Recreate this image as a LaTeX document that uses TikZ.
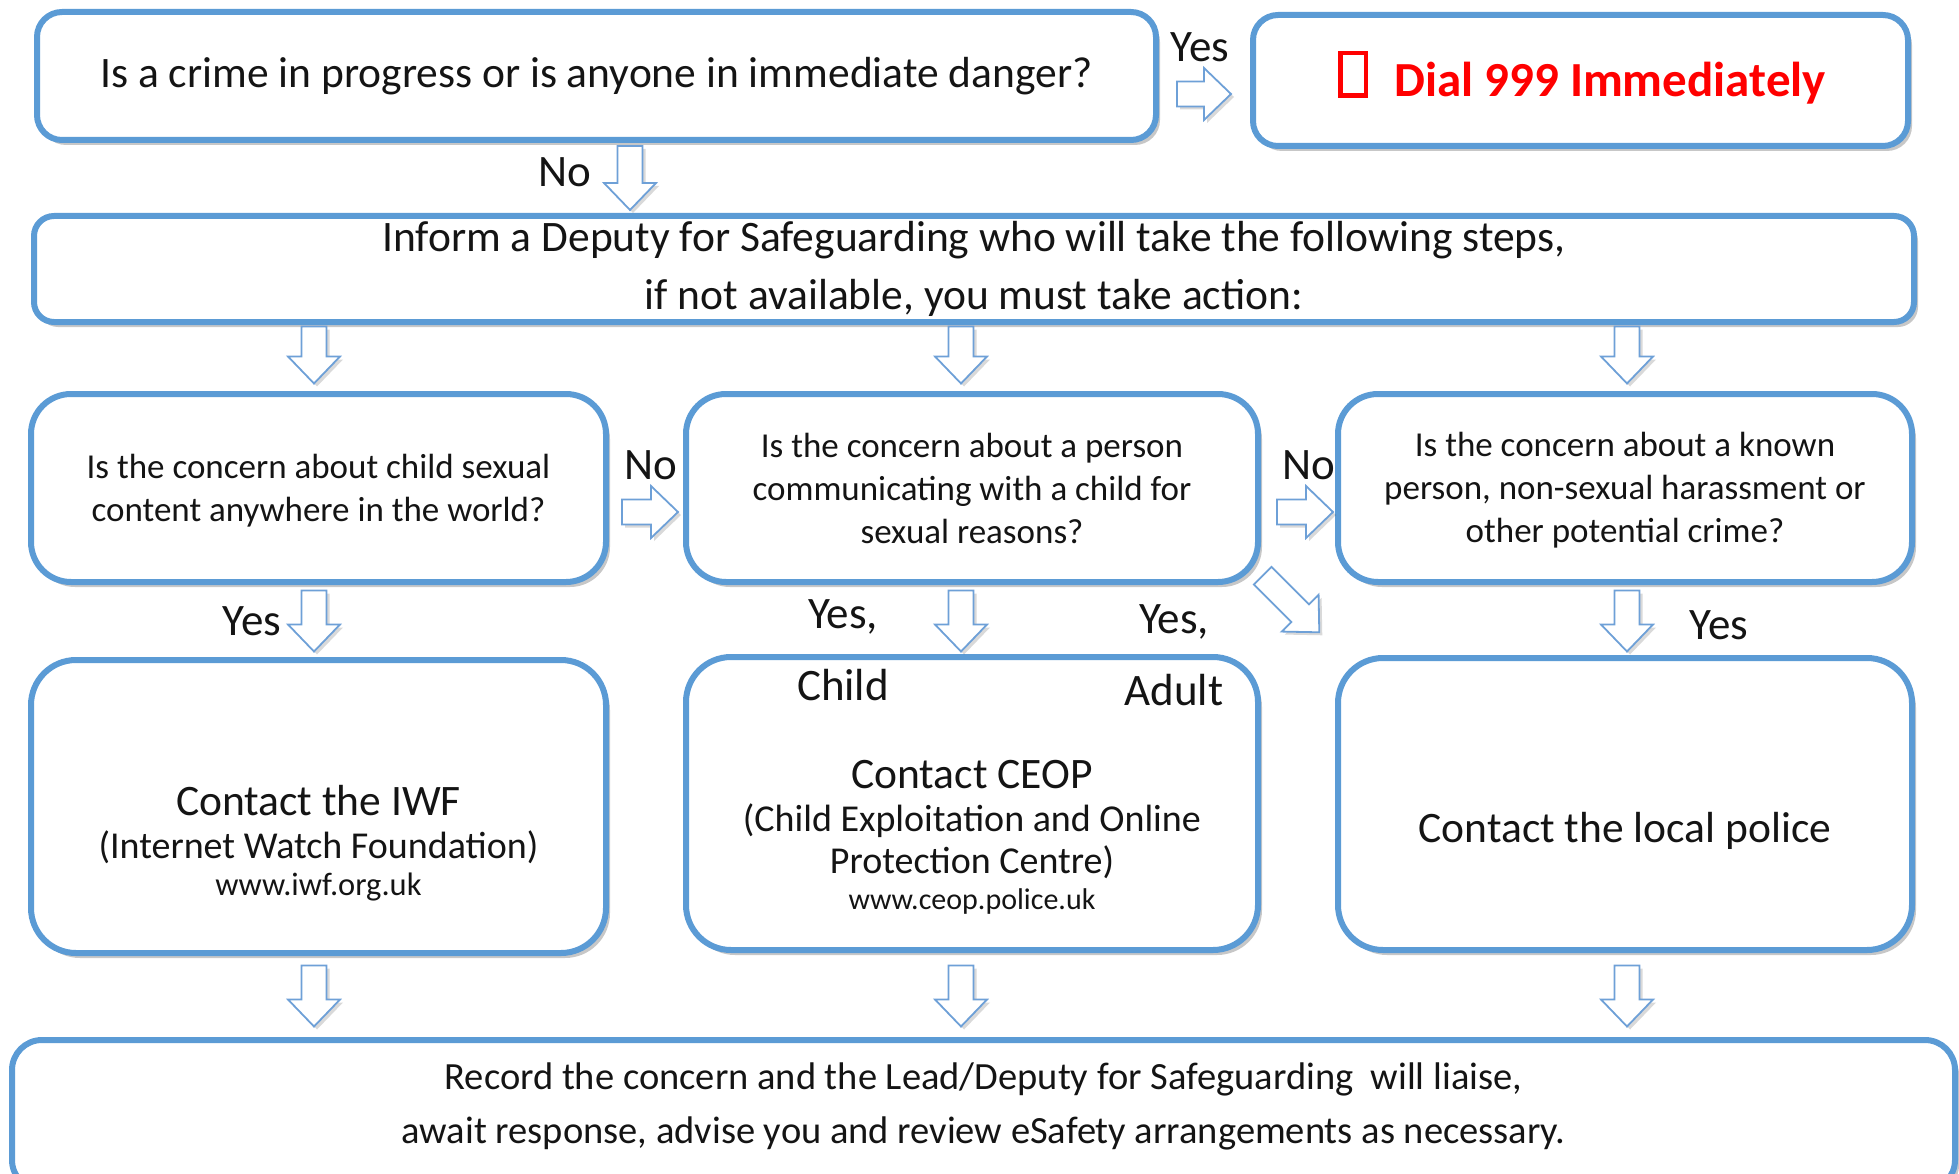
\documentclass[tikz,border=0pt]{standalone}
\usepackage{fontspec}
\setmainfont{Carlito}
\usetikzlibrary{shadows}
\definecolor{boxblue}{RGB}{91,155,213}
\definecolor{arrblue}{RGB}{110,160,215}
\definecolor{txt}{RGB}{20,20,20}
\newcommand{\fsz}[2]{\fontsize{#1}{#2}\selectfont}
\newcommand{\tofu}{\raisebox{3pt}{\setlength{\fboxrule}{4.5pt}\setlength{\fboxsep}{0pt}\fcolorbox{red}{white}{\rule{0pt}{38pt}\rule{21pt}{0pt}}}}
\begin{document}
\begin{tikzpicture}[x=1pt,y=-1pt,
  fbox/.style={draw=boxblue, line width=6pt, fill=white, rounded corners=#1,
    drop shadow={shadow xshift=4pt, shadow yshift=-5pt, opacity=0.22, fill=black},
    inner sep=0pt},
  arrstyle/.style={draw=arrblue, line width=1.8pt, fill=white, line join=miter,
    drop shadow={shadow xshift=3pt, shadow yshift=-3pt, opacity=0.15, fill=black}},
  barrow/.pic={
    \draw[arrstyle] ({-#1/2},12.5) -- ({#1/2-27},12.5) -- ({#1/2-27},26) -- ({#1/2},0)
      -- ({#1/2-27},-26) -- ({#1/2-27},-12.5) -- ({-#1/2},-12.5) -- cycle;
    \coordinate (-tip) at ({#1/2},0);
  },
  lbl/.style={font=\fsz{45}{54}, text=txt, inner sep=0pt},
  qtxt/.style={font=\fsz{35}{43}, text=txt, align=center, inner sep=0pt},
  ctxt/.style={font=\fsz{38}{42}, text=txt, align=center, inner sep=0pt},
  chead/.style={font=\fsz{43.5}{50}, text=txt, inner sep=0pt},
  url/.style={font=\fsz{#1}{36}, text=txt, inner sep=0pt}
]
\useasboundingbox (0,0) rectangle (1959,1174);

% top row
\node[fbox=25pt, minimum width=1119pt, minimum height=128pt] (q1) at (596.5,76) {};
\node[font=\fsz{43.5}{52}, text=txt, inner sep=0pt] (q1t) at (q1.center) {Is a crime in progress or is anyone in immediate danger?};
\node[fbox=25pt, minimum width=655pt, minimum height=131pt] (dial) at (1580.5,80.5) {};
\node[font=\bfseries\fsz{49}{58}, text=red, inner sep=0pt] (dialt) at (1582,77.5) {\tofu\hspace{26pt}Dial 999 Immediately};

% inform box
\node[fbox=20pt, minimum width=1880pt, minimum height=106pt] (inform) at (974,269) {};
\node[font=\fsz{43.5}{58}, text=txt, align=center, inner sep=0pt] (informt) at (974,269) {Inform a Deputy for Safeguarding who will take the following steps,\\if not available, you must take action:};

% row 3 questions
\node[fbox=40pt, minimum width=575pt, minimum height=188pt] (qa) at (318.5,488) {};
\node[qtxt] (qat) at (318.5,491) {Is the concern about child sexual\\content anywhere in the world?};
\node[fbox=40pt, minimum width=572pt, minimum height=188pt] (qb) at (972,488) {};
\node[qtxt] (qbt) at (972,488) {Is the concern about a person\\communicating with a child for\\sexual reasons?};
\node[fbox=40pt, minimum width=574pt, minimum height=188pt] (qc) at (1625,488) {};
\node[qtxt] (qct) at (1625,490) {Is the concern about a known\\person, non-sexual harassment or\\other potential crime?};

% row 4 actions
\node[fbox=45pt, minimum width=575pt, minimum height=293pt] (ca) at (318.5,806.5) {};
\node[chead] (ca1) at (318.5,801) {Contact the IWF};
\node[ctxt] (ca2) at (318.5,847) {(Internet Watch Foundation)};
\node[url=32.5] (ca3) at (318.5,887) {www.iwf.org.uk};
\node[fbox=45pt, minimum width=572pt, minimum height=293pt] (cb) at (972,803.5) {};
\node[chead] (cb1) at (972,775) {Contact CEOP};
\node[ctxt] (cb2) at (972,841) {(Child Exploitation and Online\\Protection Centre)};
\node[url=30] (cb3) at (972,901) {www.ceop.police.uk};
\node[fbox=45pt, minimum width=574pt, minimum height=292pt] (cc) at (1625,804) {};
\node[chead] (cc1) at (1625,831) {Contact the local police};

% bottom
\node[fbox=30pt, minimum width=1943pt, minimum height=150pt] (rec) at (983.5,1115) {};
\node[font=\fsz{38.5}{54}, text=txt, align=center, inner sep=0pt] (rect) at (983.5,1106) {Record the concern and the Lead/Deputy for Safeguarding\ \ will liaise,\\await response, advise you and review eSafety arrangements as necessary.};

% block arrows
\pic (ayes) at (1204,94) {barrow=54};
\pic[rotate=-90] (ano) at (630,178) {barrow=64};
\pic[rotate=-90] (d1) at (314,355) {barrow=57};
\pic[rotate=-90] (d2) at (961,355) {barrow=57};
\pic[rotate=-90] (d3) at (1627,355) {barrow=57};
\pic (r1) at (650,512) {barrow=56};
\pic (r2) at (1305,512) {barrow=56};
\pic[rotate=-90] (y1) at (314,621) {barrow=61};
\pic[rotate=-90] (y2) at (961,621) {barrow=61};
\pic[rotate=-90] (y3) at (1627,621) {barrow=61};
\pic[rotate=-45] (dg) at (1291,604) {barrow=80};
\pic[rotate=-90] (b1) at (314,996) {barrow=61};
\pic[rotate=-90] (b2) at (961,996) {barrow=61};
\pic[rotate=-90] (b3) at (1627,996) {barrow=61};

% labels
\node[lbl] (lyes) at (1200,47) {Yes};
\node[lbl] (lno) at (565,172) {No};
\node[lbl] (lno1) at (651,465) {No};
\node[lbl] (lno2) at (1309,465) {No};
\node[lbl] (lyes1) at (252,621) {Yes};
\node[lbl] (lyes2) at (843,617) {Yes,};
\node[lbl] (lchild) at (843,685) {Child};
\node[lbl] (lyes3) at (1174,622) {Yes,};
\node[lbl] (ladult) at (1174,690) {Adult};
\node[lbl] (lyes4) at (1719,625) {Yes};
\end{tikzpicture}
\end{document}
